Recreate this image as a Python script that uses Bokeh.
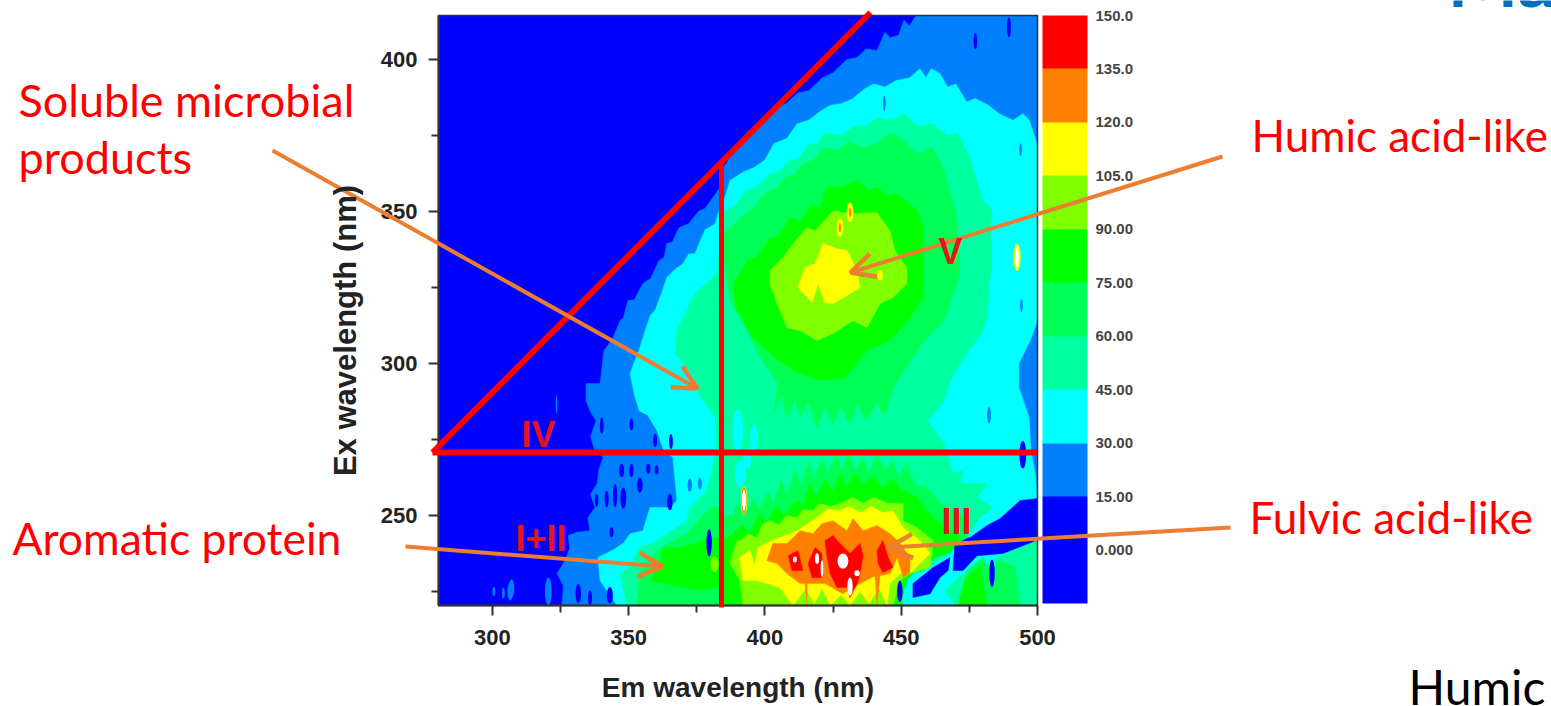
from math import pi
from bokeh.plotting import figure
from bokeh.models import (Range1d, FixedTicker, Label, Arrow, OpenHead, ColorBar, LinearColorMapper)
from bokeh.embed import file_html
from bokeh.resources import INLINE

# colour levels of the contour plot
palette = ["#0000ff", "#0000ff", "#0080ff", "#00ffff", "#00ffa0", "#00ff55",
           "#00ff00", "#80ff00", "#ffff00", "#ff8000", "#ff0000"]
bar_ticks = [0, 15, 30, 45, 60, 75, 90, 105, 120, 135, 150]
bar_labels = ["0.000", "15.00", "30.00", "45.00", "60.00", "75.00", "90.00", "105.0", "120.0", "135.0", "150.0"]
x_major = [300, 350, 400, 450, 500]
x_minor = [325, 375, 425, 475]
y_major = [250, 300, 350, 400]
y_minor = [225, 275, 325, 375]
em_lo, em_hi, ex_lo, ex_hi = 280.2, 500, 220.4, 414.5

# contour outlines (Em nm, Ex nm)
band_15 = [(455.4,414.5),(453,411),(451,413),(449,408),(445.9,407.2),(444,409),(441.1,403),(437,403.5),(433.8,400.7),(430,400),(425,395.7),
 (421,394),(416.2,389.8),(412,389),(407.7,385.5),(404,384),(400.4,380.9),(397,379),(393,375.7),(391,372),(388.6,371),(386,366),(385,365.1),
 (383.5,357.9),(380.9,354.6),(378,351),(375.8,350.3),(372,346),(368.4,344.7),(366,340),(364,339.5),(363,335),(361.1,333.9),(358,328),
 (355.2,326.3),(352,321),(349.7,320.7),(348,315),(346.8,314.1),(344,308),(340.9,304.3),(339.5,293.4),(334.3,293.4),(334.3,287.8),(336,284),
 (338,281.2),(336,276),(337.3,272),(340.6,269.1),(339,265),(338.4,260.5),(336,257),(337.6,252.6),(335,249.3),(335.8,245),(331,244.5),
 (327.7,243.4),(328.4,239.4),(326.6,235.2),(323.7,230.9),(326,227),(325.5,220.4),(500,220.4),(500,414.5)]
band_30 = [(500,372.4),(499.8,372.4),(497,380),(494.7,382.2),(491,380),(485.9,382.2),(482,385),(477.1,387.2),(474,386),(470,392),(467,391),
 (464.2,395.4),(461,397),(459,394),(456.9,397),(453,394),(448.1,393.1),(444,391),(440,392),(436.7,390.5),(432,387),(427.9,385.5),(424,385),
 (420.6,383.2),(416,380),(411.8,378.9),(408,374),(403.3,372.4),(400,367),(396,364.5),(392,363),(387.2,360.2),(385,354),(383.5,351.3),
 (381.7,346),(378,344),(374.3,336.2),(372,336),(369.9,332.9),(367,331),(364,328.3),(362,323),(359.6,317.4),(358,316),(356,310.8),(354,305),
 (350.5,296.7),(352,290),(353.8,284.5),(357,283),(360.4,277.9),(362.6,272),(366.2,269.1),(367.7,254.9),(365.1,252.6),(357.8,252.6),(355.2,245),
 (350.5,244),(347.9,240.8),(343.9,238.5),(338.7,236.2),(339.5,228.6),(345.7,220.4),(500,220.4),(500,255.6),(499.1,263.8),(497.6,271.4),
 (496.9,282.2),(493.2,292.1),(493.2,300),(497.3,307.6),(500,314.1)]
band_45 = [(482.9,351.3),(480,353.6),(475.6,366.8),(470.8,375.7),(467,375),(461.3,378.9),(456,378),(451,382.2),(446,380),(441.1,380.9),(437,378),
 (433,378.3),(428,375),(422,376),(419,372),(416.2,372.4),(412,367),(409.2,366.8),(405,363),(401.8,362.5),(397,358),(393,356.9),(389,352),(385,349.7),
 (382.4,329.6),(374.3,323),(369.9,315.1),(367.7,310.8),(367,303.3),(374.3,295.4),(375.8,290.1),(381.7,282.2),(382.4,272),(378.7,258.2),(372.5,252.6),
 (371.4,248.3),(364,244),(358.9,240.8),(354.1,239.4),(350.5,232.9),(346.8,230.9),(347.9,226.3),(349.4,220.4),(449.6,220.4),(448.5,228.6),(458.7,231.9),
 (473.4,241.7),(478.9,249.3),(483.7,252.6),(477.8,255.9),(481.5,260.5),(471.6,260.5),(472.7,264.8),(469,263.8),(465.7,273.7),
 (459.8,281.2),(465.7,287.8),(468.6,295.4),(471.6,300),(480,310.8),(481.5,315.1),(482.9,331.6)]
blob_a = [(500,255.6),(493.6,254.9),(486.3,249),(481.5,246.7),(475.2,242.7),(469.7,241.8),(469,231.9),(472.7,231.9),
 (477.8,236.8),(487.4,237.5),(500,241.8)]
blob_b = [(467.9,236.2),(461.7,232.9),(454.3,227.6),(454.3,223),(460.6,224.3),(464.2,229.6),(467.2,231.9)]
patch_45 = [(469.7,220.4),(466,225.3),(471.6,230.2),(477,231.9),(486.3,236.8),(500,241.8),(500,220.4)]
patch_60 = [(470.5,220.4),(474.1,231.9),(480,236.2),(482.6,231.9),(486.3,235.2),(491.8,233.2),(493.6,220.4)]
patch_75 = [(471,220.4),(473.4,228.6),(478.9,233.5),(481.5,220.4)]
upper_60 = [(471.6,329.6),(470.1,349.3),(465.7,363.5),(461.3,371),(456,369),(450,374),(445.9,375.7),(441.1,372.4),(436,371),(431,373),(426.4,370.1),
 (422,371),(417.6,366.8),(414,366),(410.7,362.5),(407,361),(404.8,357.9),(400,356),(396,351.3),(391,348),(385,342.8),(384.2,339.5),(387.2,320.7),
 (391.6,314.1),(397.4,303.3),(404.8,293.4),(403.3,283.5),(406,290),(408,282),(411,288),(413,283),(416,287),(419,279),(422,286),(425,280),(428,286),
 (431,280),(434,287),(437,281),(441,287),(444,283),(447,292),(451,297.7),(458.4,307.6),(465.7,314.1)]
upper_75 = [(388.3,326.3),(390.8,329.6),(393.4,333.9),(397,335),(401.8,341.4),(405,342),(409.2,348),(413,347),(417.6,352.6),(420,351),(422.8,357.9),
 (428,358),(433.8,360.2),(438,357),(441.1,357.9),(445,355),(448.5,355.9),(455.8,350.3),(458,344.7),(458,333.9),(458,321.7),(453.2,315.1),(445.9,307.6),
 (437.4,304.3),(429.4,295.4),(420.6,294.4),(411.8,297),(403.7,301.9),(395.6,308.5),(389.7,317.4)]
upper_90 = [(401.8,330.6),(406.6,334.9),(410.3,339.5),(415.4,344.7),(418.4,343.7),(425,350.3),(431.2,349.3),(441.1,349.7),
 (445.9,343.7),(447.7,337.2),(452.1,331.6),(452.1,326.3),(447,321.7),(442.2,319.7),(437.4,311.8),(432.3,314.1),(425,309.9),
 (419.1,307.6),(412.9,310.8),(408.1,311.8),(404.4,319.7),(401.8,326.3)]
upper_105 = [(412.1,325),(414.7,331.6),(418.4,332.9),(421.3,339.5),(426.4,337.8),(430.1,337.2),(433.8,330.6),(434.9,325),
 (430.1,322.4),(425,319.7),(422,320.1),(419.5,326.3),(417.3,320.1)]
lower_60 = [(388.3,250.6),(390,254),(392,249),(396,256),(398,252),(401,258),(403,254),(406,262),(408,257),(411,265),(413,260),
 (416,268),(418,262),(421,269),(423,264),(426,270),(428,265),(431,271),(433,265),(436,269),(438,264),(441,270),(444,265),(447,268),
 (449,263),(452,267),(455,260),(459.5,259.2),(464.2,254.1),(474.1,249.3),(474.1,242.7),(464.2,237.5),(454.3,230.9),(449.6,228.6),
 (450.7,220.4),(384.6,220.4),(384.6,249.3)]
lowleft_60 = [(379.8,252.6),(371.4,244),(361.5,239.4),(354.1,231.9),(353,220.4),(384.6,220.4),(384.6,252.6)]
lowleft_75 = [(380.9,242.7),(368.8,239.4),(362.6,239.4),(361.5,234.2),(357.8,228.6),(376.2,225.3),(384.6,227),(384.6,242.7)]
lower_75 = [(388,244),(392,247),(394,244),(398,250.6),(401,248),(404,253),(407,250),(412,255),(414,253),(416.5,260.5),(419,256),
 (422,262),(425,258),(427.5,263.8),(430,259),(433,264),(436,260),(440,263),(443,259),(447,262),(449.6,259),(455.8,255.9),(459.5,251.6),
 (464.2,247.3),(471.6,243.3),(467.9,237.5),(464.2,236.8),(457,234.2),(452.1,228.6),(449.6,220.4),(384.6,220.4),(384.6,241.7)]
lower_90 = [(390.8,241.7),(394,244),(397.1,242.7),(399,247),(401.8,248.3),(405,247),(408,250),(411.8,249.3),(414,252),(417.6,251.6),(420,254),(424,253),
 (428.6,254.3),(432,256),(436,254),(440,256),(445,254),(450.7,253.9),(450.7,248.3),(455.8,246),(461.7,241.7),(460.6,232.9),(453.2,230.9),(449.6,228.6),
 (447,220.4),(391.9,220.4),(390.8,228.6),(387.2,234.2),(389.7,241.7)]
lower_105 = [(390.8,236.2),(394.5,238.5),(396.3,233.5),(397.4,239.5),(402.9,241.8),(411.8,245),(420.2,250),(423,252),(427.5,251.6),(431,253),(435,251),
 (439,253),(443,251),(447,251.5),(450.7,246),(456.9,241.8),(460.6,237.5),(456.9,234.2),(453.2,230.9),(449.6,230.9),(445.9,227.6),(444.8,220.4),(442,226),
 (438,221),(435,225),(431,220.4),(428,224),(424,220.4),(421,226),(418,221),(415,226),(410.3,220.4),(405.5,226.3),(397.1,228.6),(391.9,228.6)]
lower_120 = [(402.9,240.8),(408.1,240.8),(412.9,245),(417.6,244),(420.9,247.3),(425,248.3),(430.1,245),(432.3,249),(436,245),
 (441.1,246.7),(445.9,244),(449.6,240.8),(453.2,236.2),(453.2,231.2),(450.7,229.6),(448.5,236.2),(445.9,230.9),(442.2,230.2),
 (441.1,220.4),(440.4,230.2),(434.9,227.6),(428.6,224.3),(422,227.6),(415.4,227.6),(415.4,220.4),(414.7,227.6),(412.9,227.6),
 (408.1,230.9),(404.4,234.2),(400.7,235.2)]
red_a = [(408.5,236.8),(412.1,238.5),(413.9,231.9),(409.9,231.9)]
red_b = [(415.8,234.2),(418.4,239.5),(420.9,237.5),(420.9,229.6),(417.3,229.6)]
red_c = [(422,241.7),(425,243.4),(427.5,240.8),(431.2,237.5),(434.9,240.8),(436,236.8),(434.9,230.9),(433.8,227.6),(431.2,223),
 (430.1,226.3),(426.4,226.3),(423.9,230.9),(422.8,236.2)]
red_d = [(441.1,238.5),(443.3,241.8),(445.2,236.2),(447,233),(443.3,231.2),(441.5,234.2)]

# narrow features: Em, Ex, width, height
blue_streaks = [(347.4,264.8,1.8,4.4),(351,264.8,1.6,4.4),(357.2,265.4,1.6,3.3),(354.1,260,2,5),(348,255.7,2.2,7),(345,256.6,1.6,7.7),
 (341.9,255.4,1.5,5.5),(338.2,255,1.3,4.4),(343.7,244.5,1.5,3.3),(365.1,254.4,2,5.5),(360.2,265,1.4,3),(343.1,223.7,2.2,5.5),
 (335.8,222.9,1.5,5),(331.5,224.3,2,6.5),(351,280,1.4,4),(359.7,274.7,1.4,4.4),(340.1,279.6,1.4,5.5),(365.5,274.3,1.4,5),
 (489.5,410.6,1.5,6.6),(477.2,406,1.3,5.5),(494.6,270,2.5,9),(379.5,241,2,9),(449.5,225,2,7),(483.3,231,2,9)]
dodger_streaks = [(372.4,260,1.6,4.4),(376.1,260.5,1.4,4),(482.2,283,1.4,5.5),(443.8,385.7,1,5),(493.8,370.3,1,4.4),(494.1,319,1,4.4)]
cyan_streaks = [(391,263.8,4,9),(393.4,268,3,5),(390,278,4,14),(396,275,3,10)]
isolated_15 = [(307,226,2,6),(320.5,225,2.5,9),(323.5,286.6,0.6,6.5),(300.5,225,1,3),(304,224.5,1,3.5),(306.5,225,2,6)]
spots_yellow = [(442.2,329,2,3.5),(431.2,349.7,2.5,6.5),(427.5,344.7,2.5,6),(392.3,255,2.4,9.5),(492.5,334.9,2.6,9)]
spots_orange = [(431.2,349.7,0.8,3),(427.5,344.7,0.8,3),(392.3,255,1.9,9)]
spots_white = [(392.3,255,1.4,7),(492.5,334.9,1.2,6.5),(411,235.5,1.5,2),(419.1,235.8,1.5,3.5),(420.9,232.5,1,5.5),
 (428.6,235,4,5),(433.8,231,2,2),(431.2,226.6,2,6)]
lime_spots = [(381.5,234,3,5)]

# page positions of the annotations (from the picture)
red_lines = [(432, 452, 870, 12, 6), (432, 452, 1037, 452, 6), (721, 165, 721, 607, 5)]
callouts = [(272, 150, 697, 388), (1222, 156, 850, 272), (1230, 527, 888, 547), (405, 546, 662, 566)]
big_texts = [(18, 99, "Soluble microbial", "#ff0000", "45px"), (18, 156, "products", "#ff0000", "45px"), (1251, 134, "Humic acid-like", "#ff0000", "44px"),
             (1249, 516, "Fulvic acid-like", "#ff0000", "44px"), (12, 537, "Aromatic protein", "#ff0000", "44.5px"), (1408, 686, "Humic", "#000000", "48px")]
numerals = [(938, 251, "V"), (521, 434, "IV"), (941, 521, "III"), (515, 538, "I+II")]

W, H = 1551, 706
# the frame fills the page so that callouts and texts may sit around the contour plot
p = figure(width=W, height=H, x_range=Range1d(119.48, 688.61), y_range=Range1d(187.17, 419.43),
           output_backend="svg", toolbar_location=None, min_border=0, outline_line_color=None,
           background_fill_color="#ffffff", border_fill_color="#ffffff", margin=(0, 0, 0, 0))
p.grid.visible = False

p.quad(left=[em_lo], right=[em_hi], bottom=[ex_lo], top=[ex_hi], fill_color=palette[0], line_color=None)

def band(points, colour):
    p.patch([a for a, _ in points], [b for _, b in points], fill_color=colour, line_color=colour, line_width=0.5)

def spots(items, colour):
    p.ellipse([i[0] for i in items], [i[1] for i in items], width=[i[2] for i in items],
              height=[i[3] for i in items], fill_color=colour, line_color=None)

C15, C30, C45, C60, C75, C90, C105, C120, C135 = palette[2:]
spots(isolated_15, C15)
band(band_15, C15)
band(band_30, C30)
spots(dodger_streaks, C15)
band(band_45, C45)
spots(cyan_streaks, C30)
band(blob_a, palette[0])
band(blob_b, palette[0])
band(patch_45, C45)
band(patch_60, C60)
band(patch_75, C75)
band(upper_60, C60)
band(upper_75, C75)
band(upper_90, C90)
band(upper_105, C105)
band(lower_60, C60)
band(lowleft_60, C60)
band(lowleft_75, C75)
band(lower_75, C75)
band(lower_90, C90)
band(lower_105, C105)
band(lower_120, C120)
spots(lime_spots, C90)
band(red_a, C135)
band(red_b, C135)
band(red_c, C135)
band(red_d, C135)
spots(blue_streaks, palette[0])
spots(spots_yellow, C105)
spots(spots_orange, C120)
spots(spots_white, "#ffffff")
p.quad(left=[em_lo], right=[em_hi], bottom=[ex_lo], top=[ex_hi], fill_color=None, line_color="#333333", line_width=1.5)

for ax, major, minor, loc, bounds in ((p.xaxis[0], x_major, x_minor, ex_lo, (em_lo, em_hi)), (p.yaxis[0], y_major, y_minor, em_lo, (ex_lo, ex_hi))):
    ax.fixed_location = loc
    ax.bounds = bounds
    ax.ticker = FixedTicker(ticks=major, minor_ticks=minor)
    ax.major_tick_in = 0
    ax.major_tick_out = 10
    ax.minor_tick_in = 0
    ax.minor_tick_out = 7
    ax.major_tick_line_width = 2
    ax.minor_tick_line_width = 2
    ax.major_tick_line_color = "#333333"
    ax.minor_tick_line_color = "#333333"
    ax.axis_line_color = "#333333"
    ax.axis_line_width = 2
    ax.major_label_text_font = "Liberation Sans"
    ax.major_label_text_font_style = "bold"
    ax.major_label_text_font_size = "22px"
    ax.major_label_text_color = "#222222"
p.yaxis[0].major_label_standoff = 11
p.xaxis[0].major_label_standoff = 15
p.yaxis[0].major_label_orientation = "horizontal"
p.xaxis[0].axis_label = "Em wavelength (nm)"
p.xaxis[0].axis_label_text_font = "Liberation Sans"
p.xaxis[0].axis_label_text_font_style = "bold"
p.xaxis[0].axis_label_text_font_size = "28px"
p.xaxis[0].axis_label_text_color = "#222222"
p.xaxis[0].axis_label_standoff = 23

mapper = LinearColorMapper(palette=palette, low=-15, high=150)
cb = ColorBar(color_mapper=mapper, ticker=FixedTicker(ticks=bar_ticks),
              major_label_overrides=dict(zip(bar_ticks, bar_labels)), width=45, height=588,
              major_tick_line_color=None, bar_line_color=None, padding=0,
              label_standoff=8, major_label_text_font="Liberation Sans", major_label_text_font_style="bold",
              major_label_text_font_size="15px", major_label_text_color="#444444", background_fill_color=None,
              location=(1042, 103), border_line_color=None)
p.add_layout(cb, "center")

def sy(py):
    return H - py

for x0, y0, x1, y1, w in red_lines:
    p.add_layout(Arrow(end=None, start_units="screen", end_units="screen", x_start=x0, y_start=sy(y0), x_end=x1, y_end=sy(y1),
                       line_color="#ff0000", line_width=w))

for x0, y0, x1, y1 in callouts:
    p.add_layout(Arrow(end=OpenHead(size=24, line_color="#ed7d31", line_width=4.5), start_units="screen", end_units="screen",
                       x_start=x0, y_start=sy(y0), x_end=x1, y_end=sy(y1), line_color="#ed7d31", line_width=4))

def label(x, y, text, colour="#ff0000", font="Lato", size="44.5px", style="normal", baseline="alphabetic", **kw):
    p.add_layout(Label(x=x, y=sy(y), x_units="screen", y_units="screen", text=text, text_color=colour, text_font=font,
                       text_font_size=size, text_font_style=style, text_baseline=baseline, **kw))

for x, y, t, c, s in big_texts:
    label(x, y, t, colour=c, size=s)
label(1447, -23, "Ma", colour="#0070c0", size="75px", style="bold")
label(345, 330, "Ex wavelength (nm)", colour="#222222", font="Liberation Sans", size="31px", style="bold",
      angle=pi/2, text_align="center", baseline="middle")
for x, y, t in numerals:
    label(x, y, t, colour="#e8141c", font="Liberation Sans", size="36px", style="bold")

open("out.html", "w").write(file_html(p, INLINE))
